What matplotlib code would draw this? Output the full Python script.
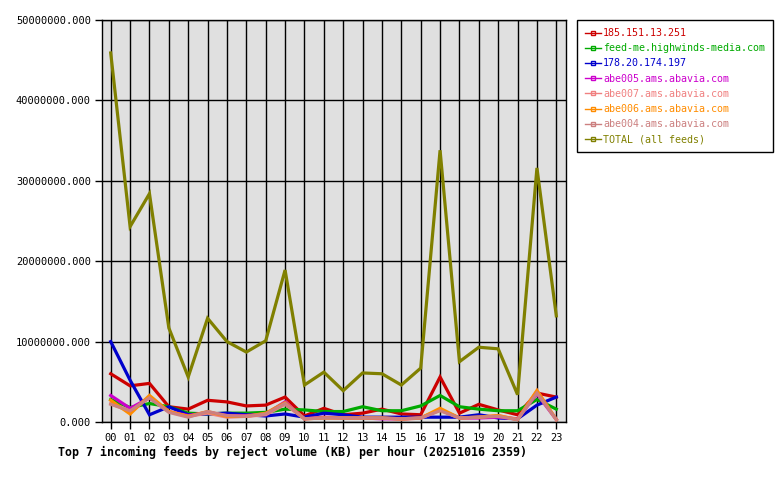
import numpy as np
import matplotlib.pyplot as plt
from matplotlib.lines import Line2D

hours = ['%02d' % h for h in range(24)]

# values in millions of KB
r185 = [6.0, 4.5, 4.8, 1.9, 1.6, 2.7, 2.5, 2.0, 2.1, 3.1, 0.75, 1.7,
        0.9, 1.1, 1.6, 1.0, 0.9, 5.6, 1.1, 2.2, 1.5, 0.9, 3.6, 3.1]
highwinds = [2.8, 1.8, 2.3, 1.9, 1.1, 1.0, 1.1, 1.1, 1.2, 1.6, 1.5, 1.3,
             1.3, 1.9, 1.4, 1.4, 2.0, 3.3, 1.9, 1.6, 1.4, 1.4, 2.8, 1.6]
r178 = [10.0, 5.2, 0.9, 1.9, 0.9, 1.0, 1.1, 0.9, 0.75, 1.0, 0.6, 1.1,
        0.9, 0.6, 0.6, 0.6, 0.6, 0.6, 0.6, 0.9, 0.5, 0.4, 2.1, 3.1]
abe005 = [3.3, 1.7, 3.0, 1.3, 0.8, 1.2, 0.8, 0.8, 1.0, 2.5, 0.4, 0.6,
          0.5, 0.5, 0.4, 0.4, 0.5, 1.5, 0.5, 0.5, 0.6, 0.4, 3.5, 0.3]
abe007 = [2.3, 1.3, 3.1, 1.3, 0.7, 1.1, 0.6, 0.7, 0.9, 2.2, 0.4, 0.5,
          0.5, 0.5, 0.5, 0.3, 0.5, 1.5, 0.5, 0.6, 0.8, 0.3, 3.9, 0.3]
abe006 = [2.7, 1.0, 3.3, 1.3, 0.7, 1.3, 0.7, 0.7, 1.1, 2.4, 0.4, 0.5,
          0.5, 0.5, 0.5, 0.4, 0.5, 1.7, 0.5, 0.6, 0.8, 0.3, 3.9, 0.3]
abe004 = [2.2, 1.4, 3.0, 1.2, 0.6, 1.3, 0.8, 0.7, 1.0, 2.3, 0.4, 0.5,
          0.5, 0.5, 0.5, 0.4, 0.5, 1.4, 0.5, 0.6, 0.7, 0.3, 3.6, 0.3]
total = [45.9, 24.3, 28.4, 11.7, 5.6, 12.9, 10.0, 8.7, 10.1, 18.9, 4.6, 6.2,
         3.9, 6.1, 6.0, 4.6, 6.7, 33.8, 7.5, 9.3, 9.1, 3.4, 31.6, 13.2]

names = ['185.151.13.251', 'feed-me.highwinds-media.com', '178.20.174.197',
         'abe005.ams.abavia.com', 'abe007.ams.abavia.com', 'abe006.ams.abavia.com',
         'abe004.ams.abavia.com', 'TOTAL (all feeds)']
series = [r185, highwinds, r178, abe005, abe007, abe006, abe004, total]
colors = ['#cc0000', '#00aa00', '#0000cc', '#cc00cc', '#f08080', '#ff8c00',
          '#cc8080', '#808000']

mono = 'DejaVu Sans Mono'
fig = plt.figure(figsize=(7.8, 4.8), dpi=100)
ax = fig.add_axes([102/780, 58/480, 464/780, 402/480])
ax.set_facecolor('#e0e0e0')

x = np.arange(24)
for vals, c in zip(series, colors):
    ax.plot(x, np.array(vals) * 1e6, color=c, lw=2.3, solid_joinstyle='miter', zorder=3)

ax.set_xlim(-0.45, 23.5)
ax.set_ylim(0, 50e6)
ax.set_xticks(x)
ax.set_xticklabels(hours, family=mono, fontsize=7.5)
yt = np.arange(0, 50e6 + 1, 10e6)
ax.set_yticks(yt)
ax.set_yticklabels(['%.3f' % v for v in yt], family=mono, fontsize=7.5)
ax.tick_params(direction='out', length=5, width=1, color='black', pad=3)
ax.grid(True, color='black', lw=1, zorder=1)
ax.set_axisbelow(True)
for s in ax.spines.values():
    s.set_linewidth(1)

handles = [Line2D([0], [0], color=c, lw=1, marker='s', markersize=2.5,
                  markerfacecolor='none', markeredgecolor=c) for c in colors]
leg = fig.legend(handles, names, loc='upper left', bbox_to_anchor=(577/780, 460/480),
                 prop={'family': mono, 'size': 7.2}, labelcolor=colors,
                 frameon=True, fancybox=False, edgecolor='black', framealpha=1,
                 handlelength=1.6, handletextpad=0.2, labelspacing=0.52,
                 borderpad=0.8, borderaxespad=0)
leg.get_frame().set_linewidth(1)

fig.text(58/780, 1 - 452/480, 'Top 7 incoming feeds by reject volume (KB) per hour (20251016 2359)',
         family=mono, weight='bold', fontsize=8.35, ha='left', va='center')

plt.savefig('out.png', dpi=100)
